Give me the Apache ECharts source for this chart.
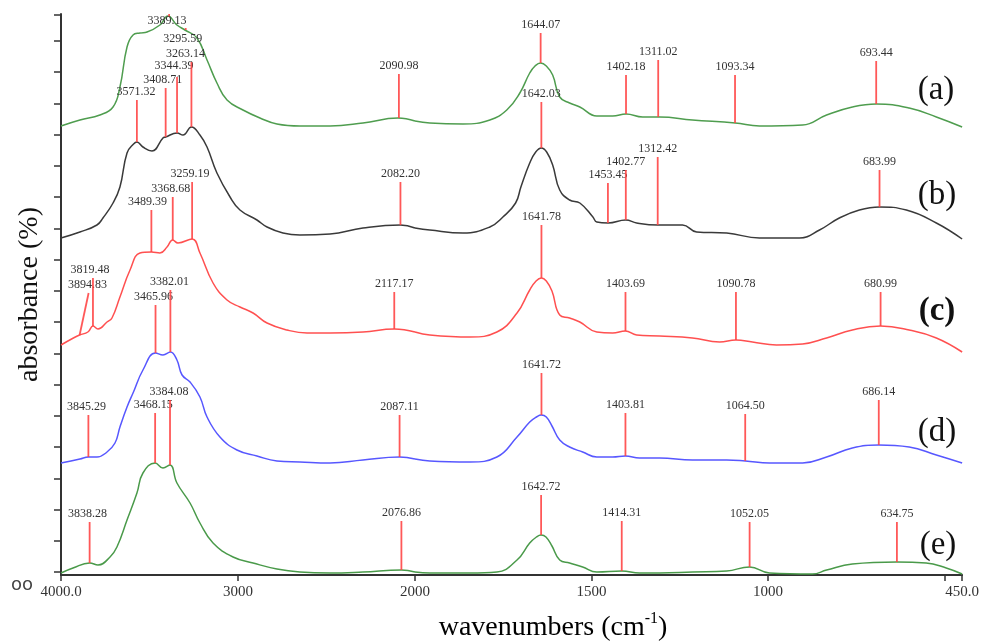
<!DOCTYPE html>
<html>
<head>
<meta charset="utf-8">
<script src="https://cdn.jsdelivr.net/npm/echarts@6/dist/echarts.min.js"></script>
<style>html,body{margin:0;padding:0;background:#fff}#c{width:982px;height:642px}</style>
</head>
<body>
<div id="c"></div>
<script>
// ---- data: [wavenumber (cm-1), stacked absorbance (arb. units)] ----
const curveA = [[4000,449],[3893,455],[3780,460],[3706,468],[3667,488],[3627,528],[3593,540],[3554,542],[3514,543],[3441,550],[3396,559],[3345,550],[3300,545],[3232,537],[3175,515],[3119,492],[3062,475],[2972,465],[2876,457],[2780,451],[2650,449],[2480,449],[2294,452],[2096,457],[2000,454],[1958,452],[1864,451],[1788,455],[1740,465],[1703,482],[1675,502],[1660,509],[1644,512],[1628,509],[1610,500],[1590,478],[1562,472],[1533,468],[1485,459],[1440,459],[1402,461],[1355,458],[1307,458],[1214,455],[1093,452],[1024,449],[902,450],[834,460],[761,468],[693,471],[600,467],[523,458],[450,448]];
const curveB = [[4000,337],[3893,343],[3797,350],[3763,357],[3706,372],[3667,388],[3627,422],[3590,431],[3571,433],[3537,428],[3486,424],[3424,437],[3409,438],[3344,442],[3311,440],[3263,448],[3215,440],[3175,428],[3119,402],[3045,378],[2989,365],[2893,355],[2836,348],[2746,342],[2650,340],[2480,341],[2294,347],[2082,350],[2000,347],[1958,345],[1864,342],[1788,348],[1751,358],[1715,372],[1700,388],[1675,412],[1658,423],[1642,427],[1627,423],[1610,410],[1590,385],[1562,375],[1533,372],[1496,358],[1485,353],[1453,352],[1403,355],[1372,352],[1312,350],[1242,350],[1202,343],[1117,342],[1024,337],[911,337],[854,345],[798,357],[741,365],[684,368],[608,365],[523,352],[450,336]];
const curveC = [[4000,230],[3930,237],[3895,240],[3848,243],[3819,249],[3791,246],[3740,253],[3712,257],[3667,278],[3610,305],[3554,322],[3489,323],[3441,322],[3401,328],[3369,335],[3339,332],[3259,336],[3215,322],[3141,292],[3062,275],[2989,268],[2915,262],[2836,252],[2723,245],[2610,242],[2480,242],[2294,243],[2117,246],[2000,243],[1958,240],[1844,238],[1768,243],[1711,262],[1675,285],[1657,294],[1642,297],[1628,294],[1612,284],[1590,260],[1562,257],[1533,253],[1485,243],[1440,242],[1404,244],[1372,240],[1307,239],[1214,237],[1137,233],[1091,235],[1044,233],[976,230],[902,231],[834,237],[761,245],[681,249],[600,245],[523,237],[450,223]];
const curveD = [[4000,112],[3893,116],[3845,118],[3797,118],[3740,123],[3695,132],[3667,148],[3627,168],[3593,182],[3537,205],[3466,222],[3424,220],[3382,223],[3345,215],[3316,200],[3271,193],[3215,178],[3175,158],[3102,138],[3006,125],[2893,119],[2780,114],[2650,113],[2480,112],[2294,115],[2087,118],[2000,116],[1958,114],[1844,113],[1768,118],[1711,138],[1675,153],[1656,158],[1642,160],[1628,158],[1612,149],[1590,135],[1562,128],[1525,123],[1485,118],[1440,118],[1404,119],[1364,117],[1307,117],[1214,115],[1117,115],[1064,114],[996,112],[902,112],[834,118],[761,127],[686,130],[600,128],[523,120],[450,112]];
const curveE = [[4000,2],[3932,7],[3838,12],[3791,10],[3723,18],[3684,28],[3627,55],[3571,82],[3537,102],[3468,112],[3424,107],[3384,110],[3345,92],[3271,72],[3215,52],[3141,32],[3028,18],[2915,12],[2780,6],[2650,3],[2480,2],[2294,3],[2077,5],[2000,3],[1958,2],[1844,2],[1768,3],[1711,15],[1675,32],[1656,38],[1643,40],[1629,38],[1612,29],[1590,15],[1562,12],[1525,8],[1485,3],[1414,4],[1364,2],[1307,2],[1214,3],[1117,4],[1052,8],[996,2],[874,1],[834,5],[761,11],[635,13],[552,12],[495,7],[450,1]];

// peaks: [wavenumber, curve level, marker top]
const peaksA = [[3389.13,558,561],[3295.59,545,547],[2090.98,457,501],[1644.07,512,542],[1402.18,461,500],[1311.02,458,515],[1093.34,452,500],[693.44,471,514]];
const peaksB = [[3571.32,433,475],[3408.71,438,487],[3344.39,442,498],[3263.14,448,513],[2082.20,350,393],[1642.03,427,473],[1453.45,352,392],[1402.77,355,405],[1312.42,350,418],[683.99,368,405]];
const peaksC = [[3894.83,240,282],[3819.48,249,297],[3489.39,323,365],[3368.68,335,378],[3259.19,336,393],[2117.17,246,283],[1641.78,297,350],[1403.69,244,283],[1090.78,235,283],[680.99,249,283]];
const peaksD = [[3845.29,118,160],[3465.96,222,270],[3382.01,223,285],[2087.11,118,160],[1641.72,160,202],[1403.81,119,162],[1064.50,114,161],[686.14,130,175]];
const peaksE = [[3838.28,12,53],[3468.15,112,162],[3384.08,110,175],[2076.86,5,54],[1642.72,40,80],[1414.31,4,54],[1052.05,8,53],[634.75,13,53]];

const curveNames = ['(a)','(b)','(c)','(d)','(e)'];
const xTicksHigh = [4000, 3000, 2000];
const xLabelsHigh = [4000, 3000];
const xTicksLow = [2000, 1500, 1000, 500, 450];
const xLabelsLow = [2000, 1500, 1000, 450];

// ---- styling ----
const colors = ['#4f9d4f', '#3a3a3a', '#ff5050', '#5757ff', '#4a9a4a'];
// label offsets in px: [dx, dy, lineTopDx]
const labelOffsets = {
  '3389.13':[-2,15,0], '3295.59':[-3,19,0], '3571.32':[-1,0,0], '3408.71':[-3,0,0],
  '3344.39':[-3,-3,0], '3263.14':[-6,0,0], '3894.83':[-1,0,9], '3819.48':[-3,0,0],
  '3489.39':[-4,0,0], '3368.68':[-2,0,0], '3259.19':[-2,0,0], '3845.29':[-2,0,0],
  '3465.96':[-2,0,0], '3382.01':[-1,0,0], '3838.28':[-2,0,0], '3468.15':[-2,0,0], '3384.08':[-1,0,0]
};
const SERIF = '"Liberation Serif","Times New Roman",serif';

const yTicks = [];
for (let k = 0; k < 18; k++) yTicks.push(3 + 31.25 * k);
yTicks.push(560);

const curves = [curveA, curveB, curveC, curveD, curveE];
const peaks = [peaksA, peaksB, peaksC, peaksD, peaksE];

const series = [];
curves.forEach((c, i) => {
  [[0, c.filter(d => d[0] >= 2000)], [1, c.filter(d => d[0] <= 2000)]].forEach(([g, data]) => {
    series.push({
      type: 'line', xAxisIndex: g, yAxisIndex: g, data: data,
      showSymbol: false, smooth: 0.45, silent: true,
      lineStyle: { color: colors[i], width: 1.5 }, z: 2
    });
  });
});

function renderPeak(params, api) {
  const w = api.value(0), b = api.value(1), t = api.value(2);
  const key = w.toFixed(2);
  const off = labelOffsets[key] || [0, 0, 0];
  const p0 = api.coord([w, b]);
  const p1 = api.coord([w, t]);
  const tx = p1[0] + off[2];
  return {
    type: 'group',
    children: [
      { type: 'line', shape: { x1: p0[0], y1: p0[1], x2: tx, y2: p1[1] },
        style: { stroke: '#ff4646', lineWidth: 1.8, opacity: 0.9 } },
      { type: 'text', x: tx + off[0], y: p1[1] - 8 + off[1],
        style: { text: key, fill: '#333', font: '12px ' + SERIF, align: 'center', verticalAlign: 'middle' } }
    ]
  };
}

peaks.forEach((p) => {
  [[0, p.filter(d => d[0] >= 2000)], [1, p.filter(d => d[0] < 2000)]].forEach(([g, data]) => {
    if (!data.length) return;
    series.push({
      type: 'custom', xAxisIndex: g, yAxisIndex: g, data: data, clip: false, silent: true,
      encode: { x: 0, y: [1, 2] }, renderItem: renderPeak, z: 5
    });
  });
});

function fmtX(v) {
  if (v === 4000) return '4000.0';
  if (v === 450) return '450.0';
  return String(v);
}

const axisLine = { show: true, lineStyle: { color: '#333', width: 2 } };

const option = {
  animation: false,
  backgroundColor: '#fff',
  grid: [
    { left: 61, top: 14, width: 354, height: 561 },
    { left: 415, top: 14, width: 548, height: 561 }
  ],
  xAxis: [
    { type: 'value', gridIndex: 0, min: 2000, max: 4000, inverse: true,
      splitLine: { show: false }, axisLine: axisLine,
      axisTick: { show: true, length: 6, customValues: xTicksHigh, lineStyle: { color: '#333', width: 1.5 } },
      axisLabel: { customValues: xLabelsHigh, formatter: fmtX, margin: 10, color: '#333', fontSize: 15, fontFamily: SERIF } },
    { type: 'value', gridIndex: 1, min: 450, max: 2000, inverse: true,
      splitLine: { show: false }, axisLine: axisLine,
      axisTick: { show: true, length: 6, customValues: xTicksLow, lineStyle: { color: '#333', width: 1.5 } },
      axisLabel: { customValues: xLabelsLow, formatter: fmtX, margin: 10, color: '#333', fontSize: 15, fontFamily: SERIF } }
  ],
  yAxis: [
    { type: 'value', gridIndex: 0, min: 0, max: 561,
      splitLine: { show: false }, axisLine: axisLine,
      axisTick: { show: true, length: 7, customValues: yTicks, lineStyle: { color: '#333', width: 1.5 } },
      axisLabel: { show: false },
      name: 'absorbance (%)', nameLocation: 'middle', nameGap: 17, nameRotate: 90,
      nameTextStyle: { fontFamily: SERIF, fontSize: 28, color: '#111' } },
    { type: 'value', gridIndex: 1, min: 0, max: 561, show: false }
  ],
  graphic: [
    { type: 'text', x: 936, y: 90, style: { text: curveNames[0], font: '33px ' + SERIF, fill: '#111', align: 'center', verticalAlign: 'middle' } },
    { type: 'text', x: 937, y: 195, style: { text: curveNames[1], font: '33px ' + SERIF, fill: '#111', align: 'center', verticalAlign: 'middle' } },
    { type: 'text', x: 937, y: 311, style: { text: curveNames[2], font: 'bold 33px ' + SERIF, fill: '#111', align: 'center', verticalAlign: 'middle' } },
    { type: 'text', x: 937, y: 432, style: { text: curveNames[3], font: '33px ' + SERIF, fill: '#111', align: 'center', verticalAlign: 'middle' } },
    { type: 'text', x: 938, y: 545, style: { text: curveNames[4], font: '33px ' + SERIF, fill: '#111', align: 'center', verticalAlign: 'middle' } },
    { type: 'text', x: 22, y: 585, style: { text: 'oo', font: '18px "DejaVu Sans"', fill: '#444', align: 'center', verticalAlign: 'middle' } },
    { type: 'text', x: 553, y: 628, style: {
        text: '{n|wavenumbers (cm}{s|-1}{n|)}', align: 'center', verticalAlign: 'middle',
        rich: {
          n: { fontFamily: SERIF, fontSize: 28, color: '#111', lineHeight: 34 },
          s: { fontFamily: SERIF, fontSize: 16, color: '#111', lineHeight: 14, verticalAlign: 'top' }
        } } }
  ],
  series: series
};

const chart = echarts.init(document.getElementById('c'), null, { renderer: 'canvas' });
chart.setOption(option);
</script>
</body>
</html>
